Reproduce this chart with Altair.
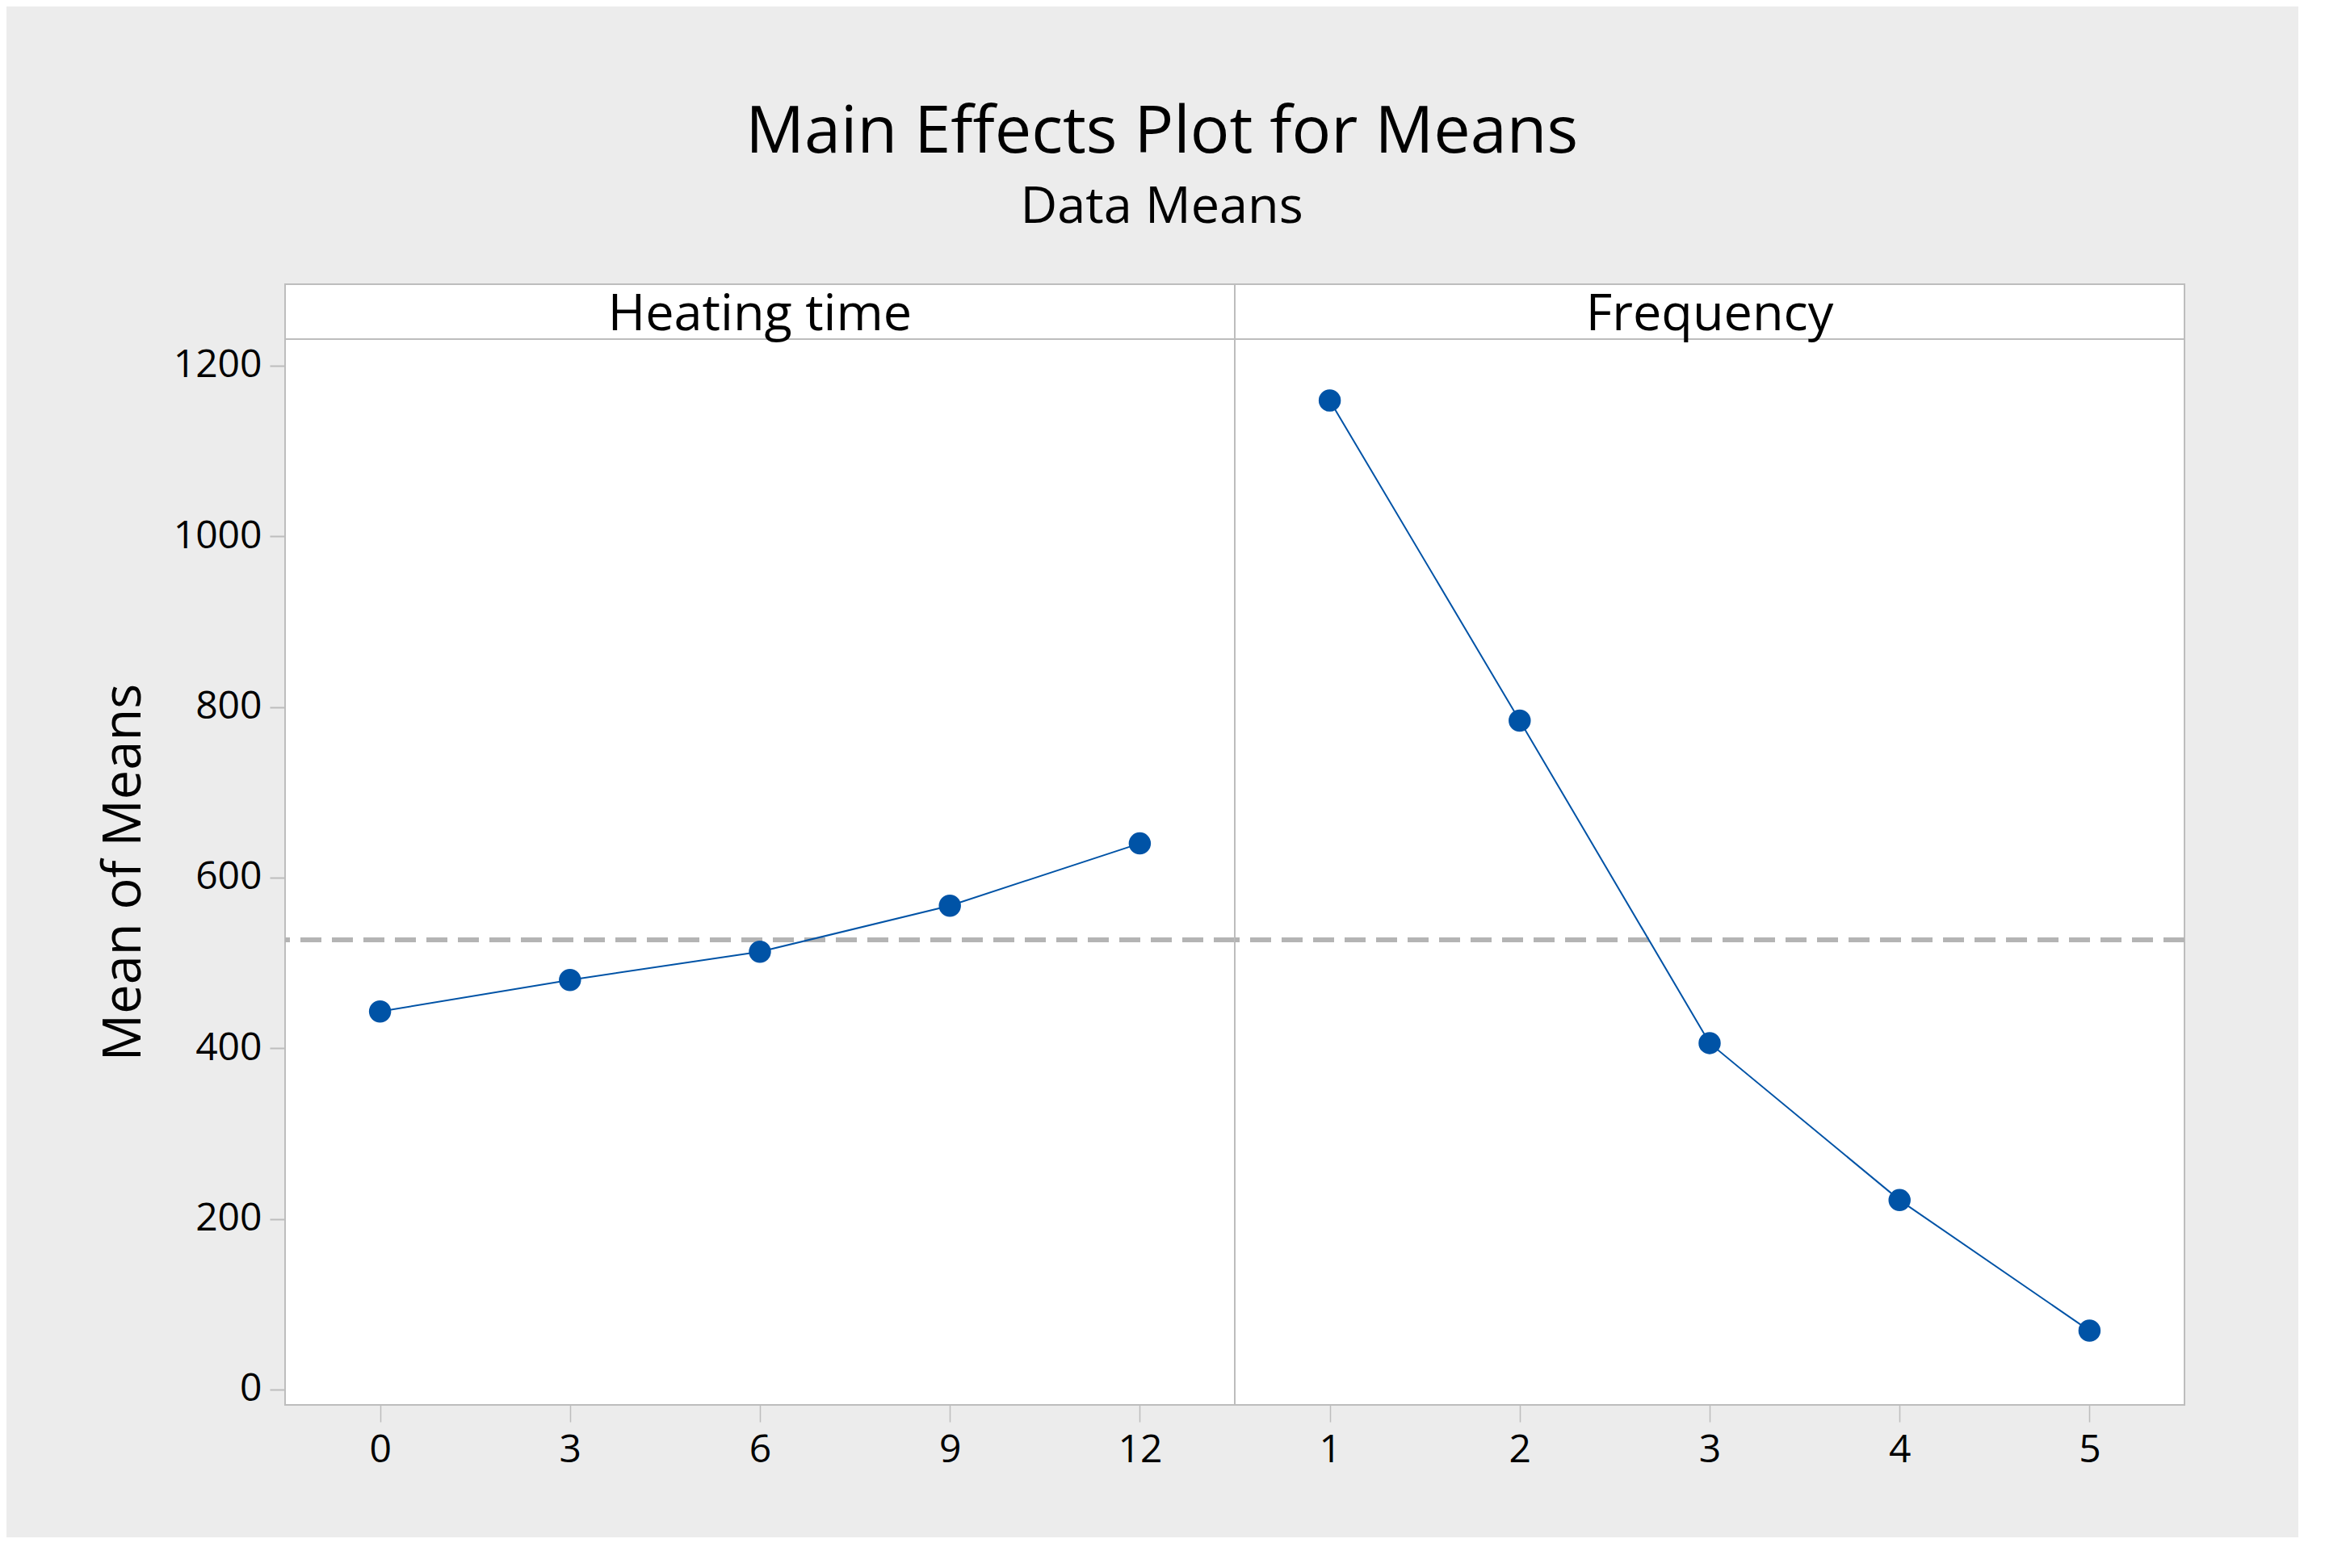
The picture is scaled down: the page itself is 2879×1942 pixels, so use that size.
import altair as alt
import pandas as pd

TITLE = "Main Effects Plot for Means"
SUBTITLE = "Data Means"
Y_TITLE = "Mean of Means"
FACTORS = ["Heating time", "Frequency"]

heating_levels = [0, 3, 6, 9, 12]
heating_means = [443, 480, 513, 567, 640]
freq_levels = [1, 2, 3, 4, 5]
freq_means = [1159, 784, 406, 222, 69]
GRAND_MEAN = 527
y_ticks = [0, 200, 400, 600, 800, 1000, 1200]

FONT = "Open Sans"
BLUE = "#0053A6"
GRAY = "#BDBDBD"
Y_DOMAIN = [-18, 1231]
PLOT_W = 1176
PLOT_H = 1320
HEAD_H = 68


def panel(name, levels, means, xdomain, show_y):
    df = pd.DataFrame({"level": levels, "mean": means})
    yscale = alt.Scale(domain=Y_DOMAIN, nice=False, zero=False)
    if show_y:
        yaxis = alt.Axis(values=y_ticks, title=Y_TITLE, format="d", tickSize=19, tickWidth=2,
                         labelPadding=10, titlePadding=27)
    else:
        yaxis = None
    xaxis = alt.Axis(values=levels, title=None, format="d", tickSize=21, tickWidth=1.5,
                     labelPadding=11)
    base = alt.Chart(df).encode(
        x=alt.X("level:Q", scale=alt.Scale(domain=xdomain, nice=False, zero=False), axis=xaxis),
        y=alt.Y("mean:Q", scale=yscale, axis=yaxis),
    )
    line = base.mark_line(color=BLUE, strokeWidth=2)
    pts = base.mark_circle(color=BLUE, size=755, opacity=1)
    rule_df = pd.DataFrame({"mean": [GRAND_MEAN]})
    rule = (
        alt.Chart(rule_df)
        .mark_rule(color="#B4B4B4", strokeWidth=6, strokeDash=[26, 13])
        .encode(y=alt.Y("mean:Q", scale=yscale, axis=yaxis))
    )
    # header strip above the plot area
    hdf = pd.DataFrame({"factor": [name]})
    hbox = (
        alt.Chart(hdf)
        .mark_rect(fill="white", stroke=GRAY, strokeWidth=2)
        .encode(x=alt.value(0), x2=alt.value("width"),
                y=alt.value(-HEAD_H), y2=alt.value(0))
    )
    htxt = (
        alt.Chart(hdf)
        .mark_text(font=FONT, fontSize=63, color="black")
        .encode(text="factor:N", y=alt.value(-HEAD_H / 2 + 4))
    )
    return alt.layer(rule, line, pts, hbox, htxt).properties(width=PLOT_W, height=PLOT_H)


left = panel(FACTORS[0], heating_levels, heating_means, [-1.5, 13.5], True)
right = panel(FACTORS[1], freq_levels, freq_means, [0.5, 5.5], False)

chart = (
    alt.hconcat(left, right, spacing=0, bounds="flush")
    .properties(
        title=alt.TitleParams(
            text=TITLE, subtitle=SUBTITLE, font=FONT, fontSize=81, fontWeight="normal",
            color="black", subtitleFont=FONT, subtitleFontSize=63, subtitleColor="black",
            anchor="middle", offset=60, subtitlePadding=20, dx=24,
        ),
        background="#ECECEC",
        padding={"left": 112, "top": 116, "right": 137, "bottom": 83},
    )
    .configure_view(fill="white", stroke=GRAY, strokeWidth=2)
    .configure_axis(
        labelFont=FONT, labelFontSize=48, labelColor="black",
        tickColor=GRAY, domain=False, grid=False,
        titleFont=FONT, titleFontSize=65, titleFontWeight="normal", titleColor="black",
    )
)

chart.save("out.html", embed_options={"renderer": "svg", "actions": False})
